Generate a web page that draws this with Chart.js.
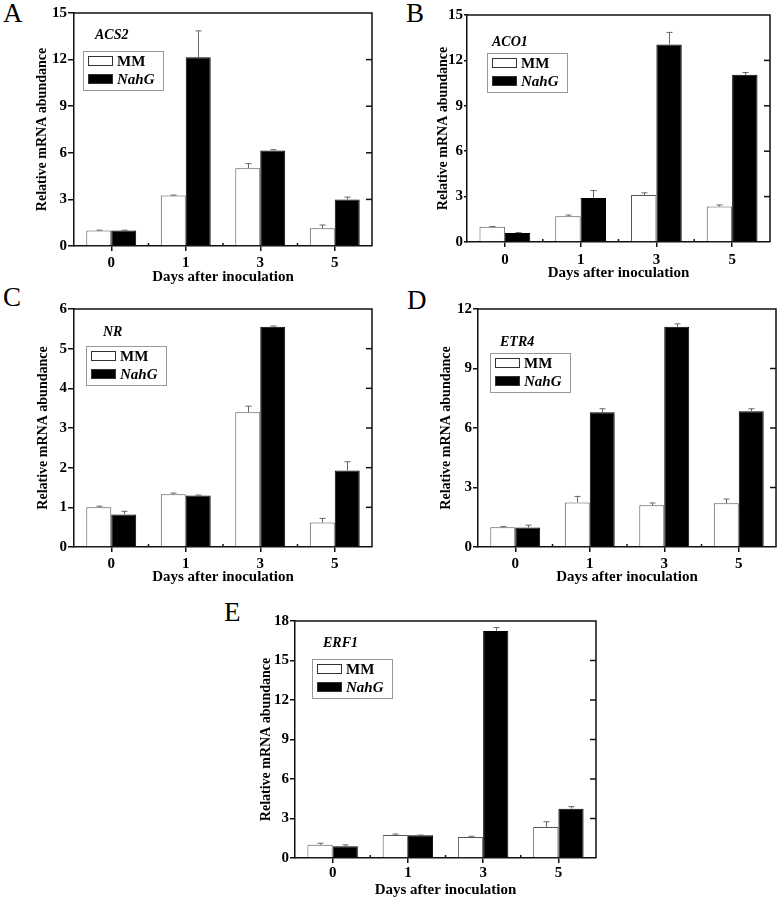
<!DOCTYPE html>
<html>
<head>
<meta charset="utf-8">
<script src="https://cdn.jsdelivr.net/npm/chart.js@4/dist/chart.umd.min.js"></script>
<style>
  html, body { margin: 0; padding: 0; background: #fff; }
  #wrap { position: relative; width: 778px; height: 898px; overflow: hidden; }
  canvas { position: absolute; }
  .tag { position: absolute; font-family: "Liberation Serif", serif; font-size: 27px; line-height: 27px; color: #000; }
</style>
</head>
<body>
<div id="wrap">
  <div class="tag" style="left:3px;top:0px">A</div>
  <div class="tag" style="left:406px;top:0px">B</div>
  <div class="tag" style="left:3px;top:284px">C</div>
  <div class="tag" style="left:407px;top:287px">D</div>
  <div class="tag" style="left:224px;top:599px">E</div>
  <canvas id="cA"></canvas>
  <canvas id="cB"></canvas>
  <canvas id="cC"></canvas>
  <canvas id="cD"></canvas>
  <canvas id="cE"></canvas>
</div>
<script>
// ===== 資料 =====
const days = ["0", "1", "3", "5"];
const seriesNames = ["MM", "NahG"];

// A: ACS2
const acs2MM = [1.0, 3.25, 5.0, 1.15];
const acs2MMErr = [0.02, 0.03, 0.3, 0.2];
const acs2NahG = [1.0, 12.15, 6.15, 3.0];
const acs2NahGErr = [0.02, 1.7, 0.05, 0.15];

// B: ACO1
const aco1MM = [1.0, 1.7, 3.1, 2.35];
const aco1MMErr = [0.02, 0.08, 0.15, 0.1];
const aco1NahG = [0.6, 2.9, 13.05, 11.05];
const aco1NahGErr = [0.02, 0.5, 0.8, 0.15];

// C: NR
const nrMM = [1.0, 1.33, 3.4, 0.62];
const nrMMErr = [0.03, 0.03, 0.15, 0.1];
const nrNahG = [0.82, 1.3, 5.55, 1.93];
const nrNahGErr = [0.08, 0.01, 0.02, 0.22];

// D: ETR4
const etr4MM = [1.0, 2.25, 2.1, 2.2];
const etr4MMErr = [0.03, 0.3, 0.12, 0.22];
const etr4NahG = [0.98, 6.8, 11.1, 6.85];
const etr4NahGErr = [0.12, 0.17, 0.15, 0.12];

// E: ERF1
const erf1MM = [1.0, 1.75, 1.6, 2.35];
const erf1MMErr = [0.12, 0.07, 0.05, 0.4];
const erf1NahG = [0.9, 1.72, 17.25, 3.75];
const erf1NahGErr = [0.1, 0.02, 0.25, 0.15];

// y 軸範圍
const yMaxA = 15, yStepA = 3;
const yMaxB = 15, yStepB = 3;
const yMaxC = 6, yStepC = 1;
const yMaxD = 12, yStepD = 3;
const yMaxE = 18, yStepE = 3;

// ===== 版面 =====
const SERIF = "'Liberation Serif', 'Times New Roman', serif";

const panels = [
  { id: "cA", gene: "ACS2", mm: acs2MM, mmErr: acs2MMErr, nahg: acs2NahG, nahgErr: acs2NahGErr, yMax: yMaxA, step: yStepA,
    canvas: { x: 0, y: 0, w: 390, h: 292 }, area: { l: 74, t: 13, r: 372, b: 246 }, yTitleX: 42, xTitleY: 277, xTickPad: 3, yTickLen: 6,
    leg: { x: 9, y: 38 }, geneAt: { x: 21, y: 22 } },
  { id: "cB", gene: "ACO1", mm: aco1MM, mmErr: aco1MMErr, nahg: aco1NahG, nahgErr: aco1NahGErr, yMax: yMaxB, step: yStepB,
    canvas: { x: 390, y: 0, w: 388, h: 292 }, area: { l: 467, t: 15, r: 770, b: 242 }, yTitleX: 443, xTitleY: 273, xTickPad: 4, yTickLen: 3,
    leg: { x: 20, y: 38 }, geneAt: { x: 25, y: 27 } },
  { id: "cC", gene: "NR", mm: nrMM, mmErr: nrMMErr, nahg: nrNahG, nahgErr: nrNahGErr, yMax: yMaxC, step: yStepC,
    canvas: { x: 0, y: 292, w: 390, h: 300 }, area: { l: 74, t: 309, r: 372, b: 547 }, yTitleX: 43, xTitleY: 577, xTickPad: 3, yTickLen: 6,
    leg: { x: 12, y: 37 }, geneAt: { x: 29, y: 23 } },
  { id: "cD", gene: "ETR4", mm: etr4MM, mmErr: etr4MMErr, nahg: etr4NahG, nahgErr: etr4NahGErr, yMax: yMaxD, step: yStepD,
    canvas: { x: 390, y: 292, w: 388, h: 300 }, area: { l: 478, t: 309, r: 776, b: 547 }, yTitleX: 446, xTitleY: 577, xTickPad: 3, yTickLen: 5,
    leg: { x: 12, y: 44 }, geneAt: { x: 22, y: 33 } },
  { id: "cE", gene: "ERF1", mm: erf1MM, mmErr: erf1MMErr, nahg: erf1NahG, nahgErr: erf1NahGErr, yMax: yMaxE, step: yStepE,
    canvas: { x: 200, y: 592, w: 400, h: 306 }, area: { l: 295, t: 621, r: 596, b: 858 }, yTitleX: 266, xTitleY: 890, xTickPad: 1, yTickLen: 5,
    leg: { x: 17, y: 38 }, geneAt: { x: 28, y: 22 } }
];

// ===== 外框、刻度、誤差線、圖例 =====
const framePlugin = {
  id: "frame",
  afterDatasetsDraw(chart, args, opts) {
    const { ctx, chartArea: a, scales: { x, y } } = chart;
    ctx.save();

    // 誤差線（只畫上方）
    chart.data.datasets.forEach((ds, di) => {
      const meta = chart.getDatasetMeta(di);
      ctx.strokeStyle = "#666";
      ctx.lineWidth = 1;
      meta.data.forEach((bar, i) => {
        const top = y.getPixelForValue(ds.data[i] + ds.errors[i]);
        const bx = Math.round(bar.x) + 0.5;
        ctx.beginPath();
        ctx.moveTo(bx, bar.y);
        ctx.lineTo(bx, top);
        ctx.moveTo(bx - 3, top);
        ctx.lineTo(bx + 3, top);
        ctx.stroke();
      });
    });

    // 上、右邊框
    ctx.strokeStyle = "#111";
    ctx.lineWidth = 1.5;
    ctx.beginPath();
    ctx.moveTo(a.left, a.top);
    ctx.lineTo(a.right, a.top);
    ctx.lineTo(a.right, a.bottom);
    ctx.stroke();

    // 右軸向內刻度
    y.ticks.forEach(t => {
      if (t.value <= y.min || t.value >= y.max) return;
      const py = y.getPixelForValue(t.value);
      ctx.beginPath();
      ctx.moveTo(a.right, py);
      ctx.lineTo(a.right - 6, py);
      ctx.stroke();
    });

    // x 軸分隔小刻度
    for (let i = 0; i < days.length - 1; i++) {
      const px = (x.getPixelForValue(i) + x.getPixelForValue(i + 1)) / 2;
      ctx.beginPath();
      ctx.moveTo(px, a.bottom);
      ctx.lineTo(px, a.bottom - 3);
      ctx.stroke();
    }

    // 基因名稱
    ctx.fillStyle = "#000";
    ctx.font = "italic bold 14px " + SERIF;
    ctx.textBaseline = "middle";
    ctx.textAlign = "left";
    ctx.fillText(opts.gene, a.left + opts.geneAt.x, a.top + opts.geneAt.y);

    // 圖例
    const lx = a.left + opts.leg.x, ly = a.top + opts.leg.y;
    ctx.strokeStyle = "#999";
    ctx.lineWidth = 1;
    ctx.strokeRect(lx + 0.5, ly + 0.5, 80, 39);
    chart.data.datasets.forEach((ds, di) => {
      const ry = ly + 10 + di * 18;
      ctx.fillStyle = ds.backgroundColor;
      ctx.fillRect(lx + 5, ry - 5, 25, 10);
      ctx.strokeStyle = "#333";
      ctx.strokeRect(lx + 5.5, ry - 4.5, 24, 9);
      ctx.fillStyle = "#000";
      ctx.font = (di === 1 ? "italic " : "") + "bold 15px " + SERIF;
      ctx.fillText(ds.label, lx + 34, ry + 1);
    });

    ctx.restore();
  }
};

function makeChart(p) {
  const el = document.getElementById(p.id);
  const c = p.canvas, a = p.area;
  el.style.left = c.x + "px";
  el.style.top = c.y + "px";
  el.width = c.w;
  el.height = c.h;

  const yWidth = a.l - c.x;
  const xHeight = c.y + c.h - a.b;
  const yTitlePad = p.yTitleX - c.x - 14 * 1.2 / 2;
  const xTitlePad = c.y + c.h - p.xTitleY - 15 * 1.2 / 2;

  return new Chart(el.getContext("2d"), {
    type: "bar",
    data: {
      labels: days,
      datasets: [
        { label: seriesNames[0], data: p.mm, errors: p.mmErr, backgroundColor: "#ffffff", borderColor: "#555", borderWidth: 1 },
        { label: seriesNames[1], data: p.nahg, errors: p.nahgErr, backgroundColor: "#000000", borderColor: "#000", borderWidth: 1 }
      ]
    },
    options: {
      responsive: false,
      animation: false,
      events: [],
      layout: { padding: { left: 0, top: a.t - c.y, right: c.x + c.w - a.r, bottom: 0 } },
      datasets: { bar: { categoryPercentage: 0.67, barPercentage: 1.0 } },
      plugins: {
        legend: { display: false },
        tooltip: { enabled: false },
        frame: { gene: p.gene, leg: p.leg, geneAt: p.geneAt }
      },
      scales: {
        x: {
          grid: { offset: false, drawOnChartArea: false, drawTicks: true, tickLength: 5, color: "#111", lineWidth: 1.5 },
          border: { display: true, color: "#111", width: 1.5 },
          ticks: { color: "#000", padding: p.xTickPad, font: { family: SERIF, size: 15, weight: "bold" } },
          title: { display: true, text: "Days after inoculation", color: "#000",
                   font: { family: SERIF, size: 15, weight: "bold" }, padding: { top: 0, bottom: xTitlePad } },
          afterFit(scale) { scale.height = xHeight; }
        },
        y: {
          min: 0,
          max: p.yMax,
          grid: { drawOnChartArea: false, drawTicks: true, tickLength: p.yTickLen, color: "#111", lineWidth: 1.5 },
          border: { display: true, color: "#111", width: 1.5 },
          ticks: { stepSize: p.step, color: "#000", padding: 1, font: { family: SERIF, size: 15, weight: "bold" } },
          title: { display: true, text: "Relative mRNA abundance", color: "#000",
                   font: { family: SERIF, size: 14, weight: "bold" }, padding: { top: yTitlePad, bottom: 0 } },
          afterFit(scale) { scale.width = yWidth; }
        }
      }
    },
    plugins: [framePlugin]
  });
}

panels.forEach(makeChart);
</script>
</body>
</html>
